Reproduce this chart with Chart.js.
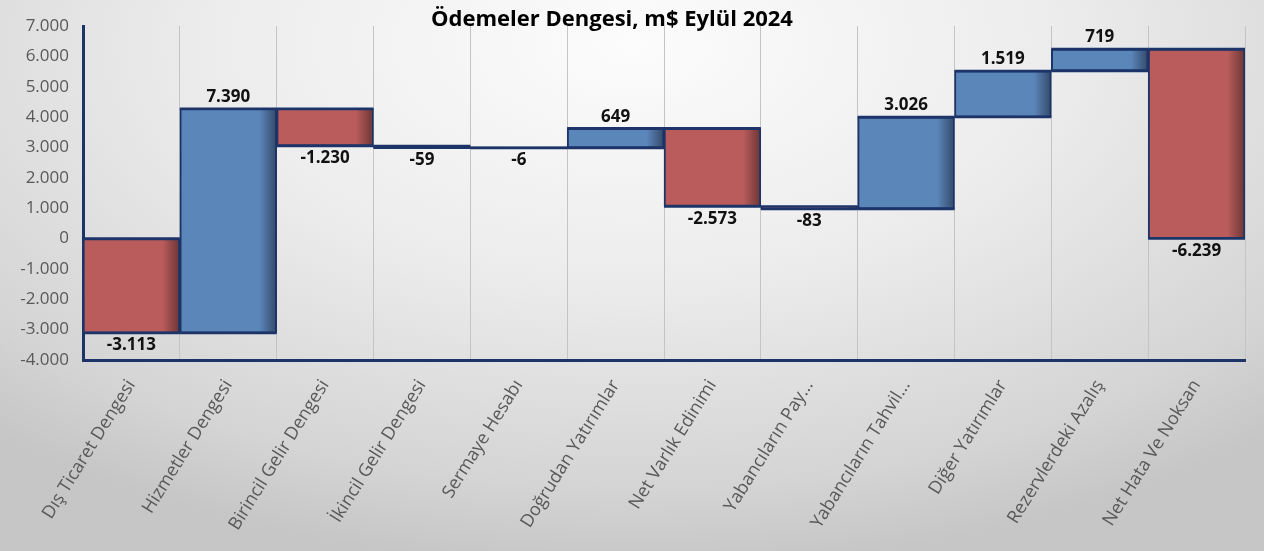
<!DOCTYPE html>
<html>
<head>
<meta charset="utf-8">
<script src="https://cdn.jsdelivr.net/npm/chart.js@4"></script>
<style>
html,body{margin:0;padding:0;}
body{width:1264px;height:551px;overflow:hidden;
background:radial-gradient(ellipse 75% 95% at 50% 8%, #fcfcfc 0%, #ececec 45%, #d4d4d4 85%, #c6c6c6 100%);}
#wrap{position:relative;width:1264px;height:551px;}
</style>
</head>
<body>
<div id="wrap"><canvas id="c" width="1264" height="551"></canvas></div>
<script>
const chartTitle = "Ödemeler Dengesi, m$ Eylül 2024";
const categories = ["Dış Ticaret Dengesi","Hizmetler Dengesi","Birincil Gelir Dengesi","İkincil Gelir Dengesi","Sermaye Hesabı","Doğrudan Yatırımlar","Net Varlık Edinimi","Yabancıların Pay...","Yabancıların Tahvil...","Diğer Yatırımlar","Rezervlerdeki Azalış","Net Hata Ve Noksan"];
const changes = [-3113, 7390, -1230, -59, -6, 649, -2573, -83, 3026, 1519, 719, -6239];
const yMin = -4000, yMax = 7000, yStep = 1000;

function fmt(v){
  const neg = v < 0; let s = Math.abs(Math.round(v)).toString();
  s = s.replace(/\B(?=(\d{3})+(?!\d))/g, ".");
  return (neg ? "-" : "") + s;
}

// floating bars [start, end] from running total
const ranges = [];
let run = 0;
for (const d of changes) { ranges.push([run, run + d]); run += d; }

const BLUE = "#5b86ba", BLUE_D = "#34496a";
const RED = "#b95c5b", RED_D = "#6b3535";
const NAVY = "#1c3468";

function barFill(ctx){
  const chart = ctx.chart;
  const v = changes[ctx.dataIndex];
  const base = v >= 0 ? BLUE : RED, dark = v >= 0 ? BLUE_D : RED_D;
  const xs = chart.scales && chart.scales.x;
  if (!chart.chartArea || !xs || ctx.dataIndex === undefined) return base;
  const cx = xs.getPixelForValue(ctx.dataIndex);
  const w = xs.width / categories.length;
  const x0 = cx - w/2, x1 = cx + w/2;
  if (!isFinite(x0) || !isFinite(x1)) return base;
  const g = chart.ctx.createLinearGradient(x0, 0, x1, 0);
  g.addColorStop(0, base);
  g.addColorStop(0.82, base);
  g.addColorStop(1, dark);
  return g;
}

const labelPlugin = {
  id: "vals",
  afterDatasetsDraw(chart){
    const c = chart.ctx, ys = chart.scales.y;
    const meta = chart.getDatasetMeta(0);
    c.save();
    // edge lines so that very thin bars still show as navy lines
    c.strokeStyle = NAVY;
    c.lineWidth = 2.5;
    meta.data.forEach((el, i) => {
      const [a, b] = ranges[i];
      const half = el.width / 2;
      [a, b].forEach(v => {
        const y = ys.getPixelForValue(v);
        c.beginPath(); c.moveTo(el.x - half, y); c.lineTo(el.x + half, y); c.stroke();
      });
    });
    c.font = "bold 17px 'Open Sans'";
    c.fillStyle = "#111";
    c.textAlign = "center";
    meta.data.forEach((el, i) => {
      const v = changes[i];
      const [a, b] = ranges[i];
      if (v >= 0) {
        c.textBaseline = "bottom";
        c.fillText(fmt(v), el.x, ys.getPixelForValue(Math.max(a,b)) - 3);
      } else {
        c.textBaseline = "top";
        c.fillText(fmt(v), el.x, ys.getPixelForValue(Math.min(a,b)) + 4);
      }
    });
    c.restore();
  }
};

const titlePlugin = {
  id: "ttl",
  afterDraw(chart){
    const c = chart.ctx;
    c.save();
    c.font = "bold 22px 'Open Sans'";
    c.fillStyle = "#000";
    c.textAlign = "center";
    c.textBaseline = "middle";
    c.fillText(chartTitle, 612, 20);
    c.restore();
  }
};

new Chart(document.getElementById("c"), {
  type: "bar",
  data: {
    labels: categories,
    datasets: [{
      data: ranges,
      backgroundColor: barFill,
      borderColor: NAVY,
      borderWidth: 2,
      borderSkipped: false,
      barPercentage: 1,
      categoryPercentage: 1
    }]
  },
  options: {
    responsive: false,
    animation: false,
    events: [],
    layout: { padding: { top: 26, right: 19, left: 0, bottom: 0 } },
    plugins: { legend: { display: false }, tooltip: { enabled: false }, title: { display: false } },
    scales: {
      x: {
        grid: { color: "#c4c4c4", lineWidth: 1, offset: true, drawTicks: false },
        border: { color: NAVY, width: 3 },
        ticks: { color: "#595959", font: { family: "'Open Sans'", size: 18 }, minRotation: 58, maxRotation: 58, padding: 16, autoSkip: false },
        afterFit(s){ s.height = 551 - 360; }
      },
      y: {
        min: yMin, max: yMax,
        grid: { display: false, drawTicks: false },
        border: { color: NAVY, width: 3 },
        ticks: { stepSize: yStep, color: "#595959", font: { family: "'Open Sans'", size: 17 }, padding: 14, callback: v => fmt(v) },
        afterFit(s){ s.width = 83; }
      }
    }
  },
  plugins: [labelPlugin, titlePlugin]
});
</script>
</body>
</html>
